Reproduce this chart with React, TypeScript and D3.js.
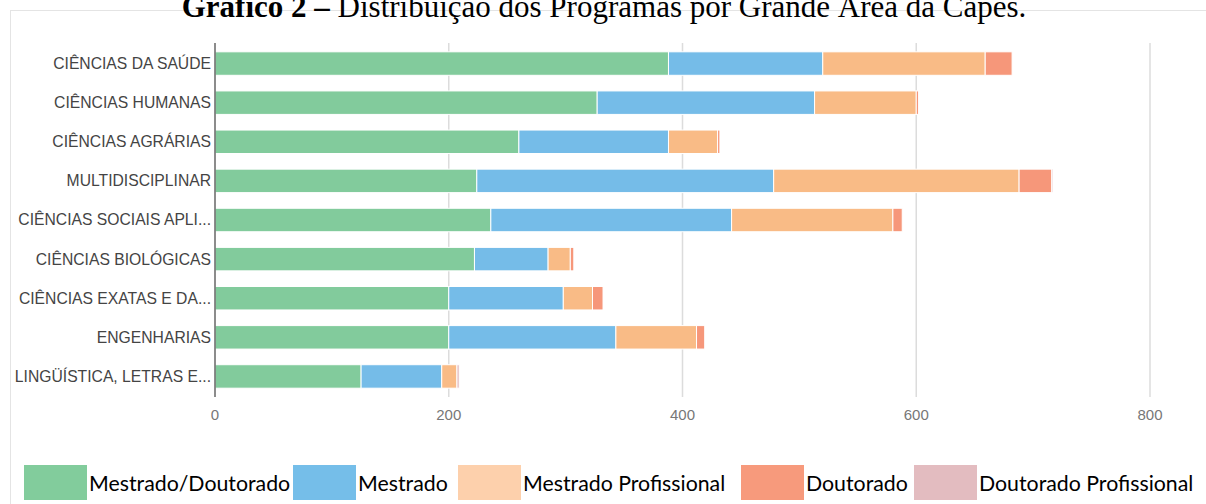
import React from 'react';
import * as d3 from 'd3';

// Grandes áreas, in the order shown
const areas = [
  'CIÊNCIAS DA SAÚDE',
  'CIÊNCIAS HUMANAS',
  'CIÊNCIAS AGRÁRIAS',
  'MULTIDISCIPLINAR',
  'CIÊNCIAS SOCIAIS APLI...',
  'CIÊNCIAS BIOLÓGICAS',
  'CIÊNCIAS EXATAS E DA...',
  'ENGENHARIAS',
  'LINGÜÍSTICA, LETRAS E...',
];

// Series values
const mestradoDoutorado = [388, 327, 260, 224, 236, 222, 200, 200, 125];
const mestrado = [132, 186, 128, 254, 206, 63, 98, 143, 69];
const mestradoProfissional = [139, 87, 42, 210, 138, 19, 25, 69, 13];
const doutorado = [23, 2, 2, 28, 8, 3, 9, 7, 0];
const doutoradoProfissional = [0, 0, 0, 1, 0, 0, 0, 0, 2];

const seriesNames = [
  'Mestrado/Doutorado',
  'Mestrado',
  'Mestrado Profissional',
  'Doutorado',
  'Doutorado Profissional',
];
const xTicks = [0, 200, 400, 600, 800];

const barColors = ['#82cb9c', '#75bce8', '#f9bb86', '#f6977a', '#e3bcc0'];
const legendColors = ['#82cc9c', '#75bee9', '#fdd0ac', '#f79a7c', '#e3bcc0'];
// legend box x positions (layout)
const legendX = [24, 293, 458, 741, 914];

const W = 1206;
const H = 504;

const App = () => {
  const x = d3.scaleLinear().domain([0, 800]).range([215, 1150]);
  const y = d3
    .scaleBand<string>()
    .domain(areas)
    .range([44, 396])
    .paddingInner(0.4)
    .paddingOuter(0.2);

  const rows = areas.map((area, i) => ({
    area,
    v0: mestradoDoutorado[i],
    v1: mestrado[i],
    v2: mestradoProfissional[i],
    v3: doutorado[i],
    v4: doutoradoProfissional[i],
  }));
  const stack = d3.stack<any>().keys(['v0', 'v1', 'v2', 'v3', 'v4']);
  const layers = stack(rows);

  const sans = 'Liberation Sans, Arial, sans-serif';

  return (
    <div style={{ position: 'absolute', left: 0, top: 0 }}>
      <svg width={W} height={H} style={{ display: 'block', background: '#fff' }}>
        {/* frame */}
        <rect x={10.5} y={10.5} width={W + 10} height={H + 10} fill="none" stroke="#e4e4e4" />

        {/* title (cropped at the top, as in the source image) */}
        <text
          x={604}
          y={17}
          textAnchor="middle"
          fontFamily="Liberation Serif, Times New Roman, serif"
          fontSize={31}
          fill="#000"
        >
          <tspan fontWeight="bold">Gráfico 2 – </tspan>
          <tspan>Distribuição dos Programas por Grande Área da Capes.</tspan>
        </text>

        {/* grid */}
        {xTicks.slice(1).map((t) => (
          <line key={t} x1={x(t)} x2={x(t)} y1={43} y2={397} stroke="#dcdcdc" strokeWidth={1.5} />
        ))}

        {/* bars */}
        {layers.map((layer, li) =>
          layer.map((d, i) => {
            const w = x(d[1]) - x(d[0]);
            if (w <= 0) return null;
            return (
              <rect
                key={`${li}-${i}`}
                x={x(d[0])}
                y={y(areas[i])}
                width={w}
                height={y.bandwidth()}
                fill={barColors[li]}
                stroke="#fff"
                strokeWidth={1}
              />
            );
          })
        )}

        {/* axis line */}
        <line x1={215} x2={215} y1={43} y2={397} stroke="#666" strokeWidth={1.5} />

        {/* category labels */}
        {areas.map((a) => (
          <text
            key={a}
            x={211}
            y={(y(a) ?? 0) + y.bandwidth() / 2}
            dy="0.35em"
            textAnchor="end"
            fontFamily={sans}
            fontSize={15.7}
            fill="#444"
          >
            {a}
          </text>
        ))}

        {/* tick labels */}
        {xTicks.map((t) => (
          <text
            key={t}
            x={x(t)}
            y={415}
            dy="0.35em"
            textAnchor="middle"
            fontFamily={sans}
            fontSize={15}
            fill="#777"
          >
            {t}
          </text>
        ))}

        {/* legend */}
        {seriesNames.map((s, i) => (
          <g key={s}>
            <rect x={legendX[i]} y={465} width={63} height={35} fill={legendColors[i]} />
            <text
              x={legendX[i] + 65}
              y={491}
              fontFamily="Lato, Open Sans, sans-serif"
              fontSize={21.3}
              fill="#000"
            >
              {s}
            </text>
          </g>
        ))}
      </svg>
    </div>
  );
};

export default App;
